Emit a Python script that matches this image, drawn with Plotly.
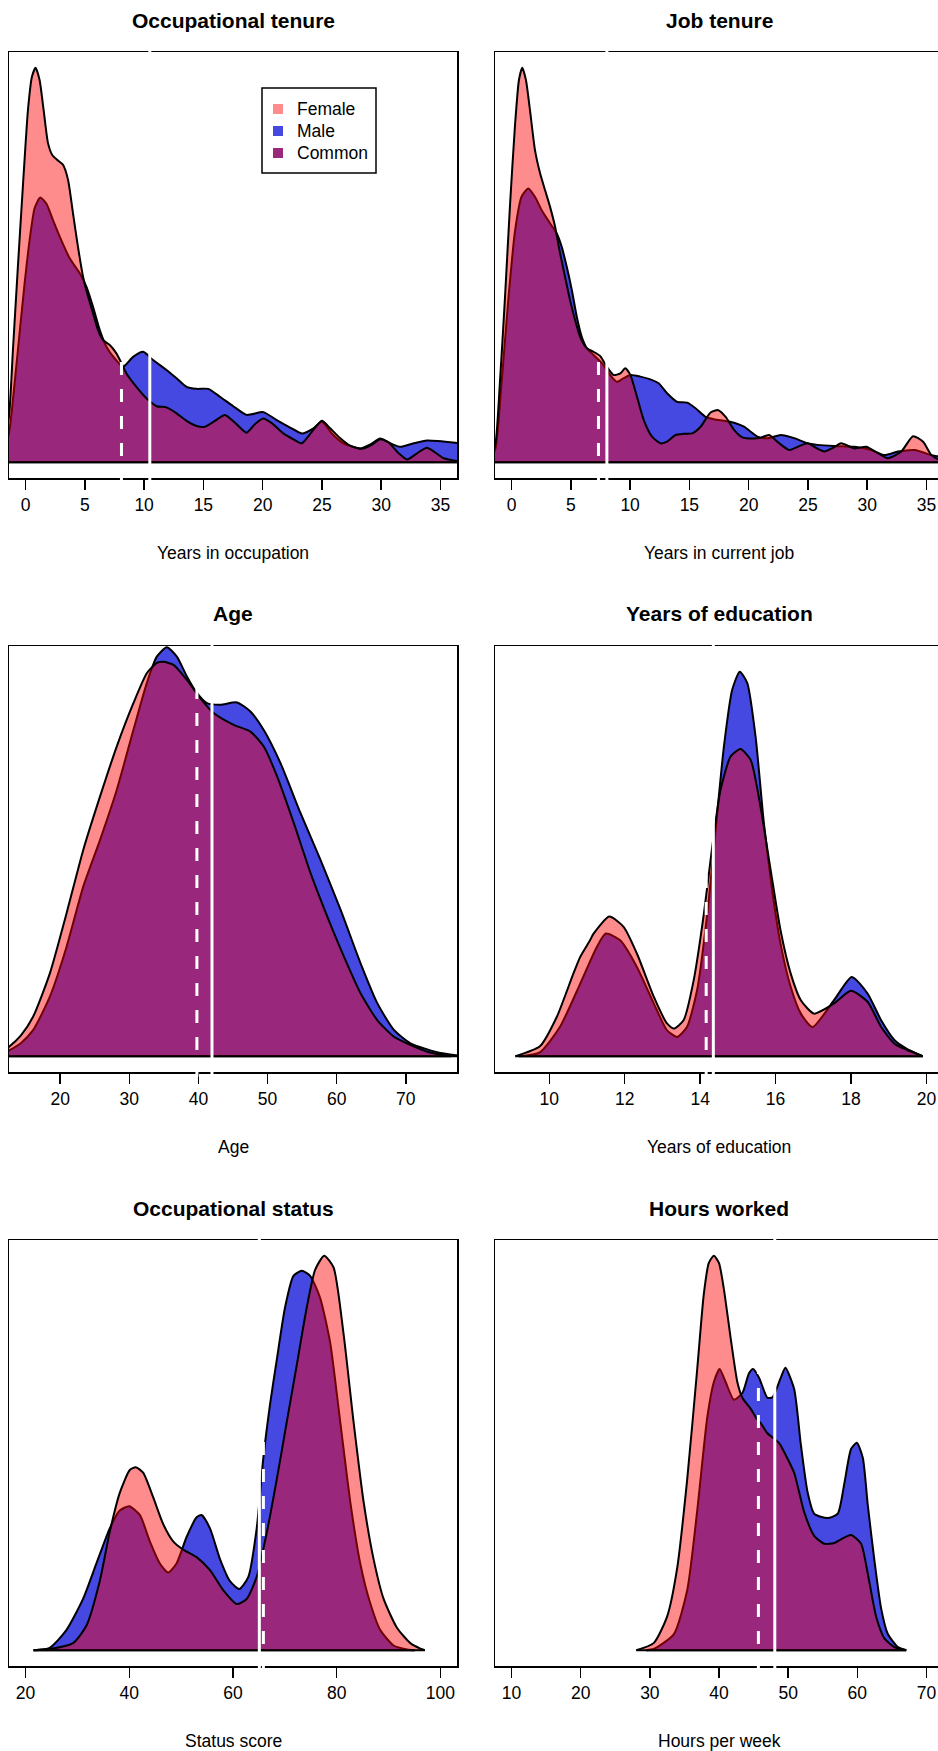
import plotly.graph_objects as go

FONT = "Liberation Sans, Arial, sans-serif"

# ---------------- data (density, scaled so 1 = panel y-limit) ----------------
# Occupational tenure (years in occupation)
occ_f_x = [-2.6, -2.0, -1.41, -1.07, -0.65, -0.23, 0.20, 0.535, 0.845, 1.18, 1.52, 1.89, 2.25, 2.73,
           3.16, 3.58, 4.00, 4.42, 4.85, 5.27, 5.69, 6.11, 6.53, 7.10, 7.66, 8.09, 8.51, 9.35, 10.20,
           11.05, 11.89, 12.74, 13.58, 14.43, 15.13, 15.98, 16.82, 17.67, 18.65, 19.36, 20.06, 20.77,
           21.75, 22.60, 23.30, 24.15, 25.00, 25.70, 26.55, 27.39, 28.36, 29.21, 29.92, 30.63, 31.47,
           32.18, 33.00, 33.87, 35.28, 36.40, 37.50]
occ_f_y = [0.0, 0.03, 0.115, 0.284, 0.496, 0.699, 0.893, 0.977, 1.0, 0.969, 0.893, 0.809, 0.779, 0.765,
           0.754, 0.716, 0.631, 0.546, 0.470, 0.420, 0.378, 0.335, 0.310, 0.297, 0.276, 0.251, 0.225,
           0.191, 0.162, 0.142, 0.139, 0.124, 0.105, 0.092, 0.090, 0.105, 0.120, 0.100, 0.075, 0.097,
           0.111, 0.099, 0.073, 0.058, 0.048, 0.077, 0.105, 0.086, 0.061, 0.042, 0.034, 0.044, 0.058,
           0.050, 0.023, 0.007, 0.022, 0.037, 0.010, 0.003, 0.0]
occ_m_x = [-2.6, -2.0, -1.41, -0.93, -0.51, -0.08, 0.34, 0.76, 1.24, 1.75, 2.31, 3.01, 3.72, 4.57, 5.13,
           5.69, 6.26, 6.82, 7.52, 8.23, 9.07, 9.92, 10.76, 11.89, 12.74, 13.58, 14.43, 15.41, 16.40,
           17.52, 18.65, 20.06, 21.19, 22.32, 23.30, 24.29, 25.00, 25.84, 26.82, 28.23, 29.08, 29.92,
           30.77, 31.61, 32.74, 33.87, 36.40, 37.50]
occ_m_y = [0.0, 0.02, 0.073, 0.200, 0.327, 0.454, 0.563, 0.644, 0.671, 0.656, 0.614, 0.563, 0.517, 0.479,
           0.445, 0.394, 0.335, 0.293, 0.263, 0.242, 0.267, 0.280, 0.259, 0.234, 0.213, 0.191, 0.186,
           0.186, 0.166, 0.142, 0.120, 0.127, 0.107, 0.088, 0.073, 0.086, 0.103, 0.073, 0.048, 0.035,
           0.045, 0.060, 0.048, 0.039, 0.048, 0.055, 0.049, 0.045]
occ_mean_f, occ_mean_m = 8.09, 10.48

# Job tenure (years in current job)
job_f_x = [-2.3, -1.8, -1.36, -0.99, -0.57, -0.14, 0.28, 0.62, 0.90, 1.21, 1.55, 1.97, 2.40, 2.82, 3.24,
           3.67, 4.09, 4.51, 4.94, 5.36, 5.78, 6.35, 6.91, 7.48, 8.04, 8.61, 9.17, 9.59, 10.02, 10.58,
           11.15, 11.85, 12.56, 13.12, 13.83, 14.53, 15.24, 15.95, 16.79, 17.44, 18.06, 18.77, 19.47,
           20.46, 21.00, 21.73, 22.50, 23.42, 24.20, 24.98, 25.70, 26.38, 27.10, 27.80, 28.93, 29.92,
           30.80, 31.75, 32.88, 33.87, 34.72, 35.42, 36.10, 37.00]
job_f_y = [0.0, 0.01, 0.048, 0.200, 0.411, 0.648, 0.851, 0.969, 1.0, 0.969, 0.893, 0.792, 0.733, 0.690,
           0.648, 0.597, 0.530, 0.470, 0.410, 0.360, 0.318, 0.289, 0.280, 0.269, 0.242, 0.221, 0.225,
           0.238, 0.221, 0.166, 0.107, 0.065, 0.048, 0.052, 0.069, 0.072, 0.073, 0.090, 0.126, 0.132,
           0.115, 0.082, 0.063, 0.060, 0.062, 0.069, 0.050, 0.031, 0.040, 0.048, 0.036, 0.027, 0.036,
           0.048, 0.035, 0.039, 0.025, 0.010, 0.027, 0.066, 0.052, 0.018, 0.006, 0.0]
job_m_x = [-2.3, -1.8, -1.36, -0.85, -0.28, 0.28, 0.84, 1.41, 1.97, 2.54, 3.24, 3.81, 4.23, 4.65, 5.08,
           5.50, 5.92, 6.35, 6.91, 7.62, 8.32, 8.89, 9.45, 10.02, 10.86, 11.71, 12.41, 13.12, 13.97,
           14.81, 15.52, 16.37, 17.07, 17.92, 18.77, 19.61, 20.74, 21.59, 22.72, 23.84, 24.98, 25.82,
           27.23, 28.93, 30.34, 31.47, 32.60, 34.01, 35.42, 36.10, 37.00]
job_m_y = [0.0, 0.008, 0.035, 0.200, 0.411, 0.584, 0.673, 0.694, 0.673, 0.639, 0.606, 0.580, 0.546,
           0.496, 0.437, 0.369, 0.318, 0.289, 0.272, 0.251, 0.221, 0.204, 0.213, 0.221, 0.217, 0.210,
           0.200, 0.175, 0.153, 0.151, 0.137, 0.115, 0.109, 0.105, 0.100, 0.090, 0.065, 0.061, 0.069,
           0.061, 0.048, 0.044, 0.041, 0.039, 0.031, 0.018, 0.027, 0.031, 0.018, 0.014, 0.005]
job_mean_f, job_mean_m = 7.33, 8.04

# Age
age_f_x = [11.0, 12.61, 14.3, 16.08, 18.51, 20.92, 23.34, 25.76, 28.18, 30.59, 32.53, 33.98, 34.95,
           36.40, 38.33, 40.26, 42.20, 45.10, 47.52, 49.45, 51.39, 53.80, 56.22, 58.64, 61.06, 63.47,
           65.89, 68.31, 70.73, 73.00, 75.00, 76.50]
age_f_y = [0.005, 0.024, 0.052, 0.100, 0.210, 0.362, 0.523, 0.658, 0.785, 0.895, 0.971, 0.997, 1.0,
           0.992, 0.954, 0.908, 0.870, 0.840, 0.823, 0.785, 0.709, 0.591, 0.464, 0.354, 0.252, 0.159,
           0.091, 0.049, 0.028, 0.012, 0.004, 0.0]
age_m_x = [11.0, 12.61, 14.3, 16.08, 18.51, 20.92, 23.34, 25.76, 28.18, 30.59, 32.53, 33.98, 35.43,
           36.88, 38.33, 39.78, 41.23, 43.17, 45.58, 47.52, 49.45, 51.87, 54.77, 57.67, 60.57, 63.47,
           65.89, 68.31, 70.73, 73.00, 75.00, 77.50, 78.50]
age_m_y = [0.003, 0.015, 0.033, 0.066, 0.151, 0.277, 0.430, 0.548, 0.675, 0.827, 0.946, 1.013, 1.037,
           1.013, 0.963, 0.921, 0.895, 0.891, 0.897, 0.874, 0.827, 0.743, 0.616, 0.497, 0.371, 0.235,
           0.134, 0.066, 0.032, 0.018, 0.008, 0.002, 0.0]
age_mean_f, age_mean_m = 39.78, 41.96

# Years of education
edu_f_x = [9.10, 9.75, 10.20, 10.64, 10.82, 11.08, 11.17, 11.59, 11.97, 12.32, 12.77, 13.12, 13.30, 13.56,
           13.83, 14.10, 14.32, 14.54, 14.81, 15.07, 15.34, 15.60, 15.87, 16.13, 16.40, 16.67, 17.02,
           17.55, 18.00, 18.44, 18.80, 19.15, 19.46, 19.90]
edu_f_y = [0.0, 0.025, 0.100, 0.210, 0.252, 0.294, 0.310, 0.354, 0.328, 0.261, 0.151, 0.083, 0.070, 0.091,
           0.193, 0.362, 0.531, 0.675, 0.760, 0.779, 0.751, 0.633, 0.472, 0.320, 0.210, 0.142, 0.108,
           0.134, 0.166, 0.138, 0.074, 0.032, 0.017, 0.0]
edu_m_x = [9.20, 9.75, 10.28, 10.82, 11.26, 11.50, 11.88, 12.32, 12.77, 13.12, 13.39, 13.65, 13.92, 14.19,
           14.41, 14.63, 14.85, 15.05, 15.25, 15.47, 15.69, 15.91, 16.13, 16.40, 16.67, 16.98, 17.55,
           18.02, 18.44, 18.80, 19.15, 19.46, 19.90]
edu_m_y = [0.0, 0.010, 0.074, 0.184, 0.277, 0.311, 0.294, 0.227, 0.134, 0.066, 0.049, 0.074, 0.168, 0.362,
           0.574, 0.785, 0.929, 0.975, 0.946, 0.810, 0.591, 0.421, 0.286, 0.176, 0.108, 0.074, 0.142,
           0.201, 0.159, 0.091, 0.041, 0.020, 0.0]
edu_mean_f, edu_mean_m = 14.16, 14.35

# Occupational status (status score)
stat_f_x = [21.55, 24.64, 29.14, 31.72, 34.30, 36.23, 38.16, 40.10, 41.26, 42.67, 44.60, 46.53, 48.46,
            50.40, 52.98, 55.56, 58.13, 60.71, 62.64, 64.57, 66.51, 68.44, 70.37, 72.31, 74.24, 75.85,
            77.58, 79.38, 81.31, 83.25, 85.18, 87.11, 89.05, 91.62, 94.20, 96.13, 97.00]
stat_f_y = [0.0, 0.003, 0.018, 0.062, 0.175, 0.300, 0.399, 0.457, 0.464, 0.450, 0.388, 0.320, 0.276,
            0.255, 0.236, 0.203, 0.152, 0.117, 0.130, 0.186, 0.298, 0.433, 0.579, 0.724, 0.870, 0.965,
            1.0, 0.971, 0.803, 0.579, 0.377, 0.231, 0.130, 0.057, 0.018, 0.004, 0.0]
stat_m_x = [21.55, 24.64, 27.86, 31.08, 33.66, 36.23, 38.16, 39.97, 42.03, 43.96, 45.89, 47.50, 49.11,
            51.05, 52.98, 53.94, 55.56, 57.49, 59.42, 61.22, 62.96, 64.57, 65.86, 67.15, 68.44, 70.05,
            71.66, 73.27, 74.88, 76.81, 78.74, 80.68, 82.61, 84.54, 86.47, 88.41, 90.98, 93.56, 95.00]
stat_m_y = [0.0, 0.006, 0.051, 0.130, 0.220, 0.309, 0.354, 0.365, 0.343, 0.276, 0.220, 0.197, 0.220,
            0.287, 0.337, 0.343, 0.309, 0.231, 0.175, 0.155, 0.186, 0.309, 0.489, 0.624, 0.736, 0.870,
            0.949, 0.962, 0.949, 0.893, 0.780, 0.579, 0.377, 0.220, 0.119, 0.051, 0.012, 0.002, 0.0]
stat_mean_f, stat_mean_m = 65.86, 65.08

# Hours worked (hours per week)
hrs_f_x = [28.04, 30.55, 32.49, 33.95, 35.40, 36.85, 37.81, 38.53, 39.26, 39.99, 40.71, 41.68, 42.65,
           43.38, 44.59, 45.56, 46.06, 47.01, 48.70, 49.67, 50.87, 52.32, 53.77, 55.22, 56.68, 57.65,
           59.10, 60.55, 61.52, 62.73, 63.93, 65.38, 67.08]
hrs_f_y = [0.0, 0.018, 0.085, 0.208, 0.433, 0.713, 0.904, 0.982, 1.0, 0.982, 0.915, 0.792, 0.680, 0.640,
           0.612, 0.584, 0.575, 0.550, 0.525, 0.494, 0.450, 0.350, 0.290, 0.270, 0.272, 0.281, 0.292,
           0.270, 0.194, 0.085, 0.030, 0.008, 0.0]
hrs_m_x = [29.50, 30.55, 33.45, 35.40, 36.85, 38.30, 39.26, 40.09, 40.96, 42.16, 43.38, 44.34, 44.92,
           45.79, 47.01, 47.74, 48.94, 49.60, 50.87, 51.84, 52.81, 53.77, 55.71, 57.17, 58.13, 59.10,
           59.93, 60.80, 61.52, 62.49, 63.45, 64.42, 65.88, 67.08]
hrs_m_y = [0.0, 0.003, 0.040, 0.152, 0.354, 0.590, 0.680, 0.713, 0.680, 0.635, 0.652, 0.702, 0.713,
           0.691, 0.640, 0.641, 0.691, 0.716, 0.662, 0.521, 0.401, 0.346, 0.335, 0.346, 0.423, 0.510,
           0.526, 0.488, 0.368, 0.226, 0.106, 0.041, 0.008, 0.0]
hrs_mean_f, hrs_mean_m = 45.70, 48.07

titles = ["Occupational tenure", "Job tenure", "Age", "Years of education",
          "Occupational status", "Hours worked"]
xlabels = ["Years in occupation", "Years in current job", "Age", "Years of education",
           "Status score", "Hours per week"]
xlims = [(0, 35), (0, 35), (15, 75), (9, 20), (20, 100), (10, 70)]
tick_sets = [[0, 5, 10, 15, 20, 25, 30, 35], [0, 5, 10, 15, 20, 25, 30, 35],
             [20, 30, 40, 50, 60, 70], [10, 12, 14, 16, 18, 20],
             [20, 40, 60, 80, 100], [10, 20, 30, 40, 50, 60, 70]]
legend_labels = ["Female", "Male", "Common"]

female_series = [(occ_f_x, occ_f_y), (job_f_x, job_f_y), (age_f_x, age_f_y),
                 (edu_f_x, edu_f_y), (stat_f_x, stat_f_y), (hrs_f_x, hrs_f_y)]
male_series = [(occ_m_x, occ_m_y), (job_m_x, job_m_y), (age_m_x, age_m_y),
               (edu_m_x, edu_m_y), (stat_m_x, stat_m_y), (hrs_m_x, hrs_m_y)]
means = [(occ_mean_f, occ_mean_m), (job_mean_f, job_mean_m), (age_mean_f, age_mean_m),
         (edu_mean_f, edu_mean_m), (stat_mean_f, stat_mean_m), (hrs_mean_f, hrs_mean_m)]

# ---------------- styling ----------------
MALE_FILL = "rgb(70,72,226)"
FEMALE_FILL = "rgba(255,0,0,0.45)"
COMMON_FILL = "rgb(155,41,123)"
FS = 17.5

W, H = 938, 1751
COL_LEFT = [9, 495]
BOX_W = 448
ROW_TOP = [52, 646, 1240]
BOX_H = 426
TITLE_OFF = -32
XLAB_OFF = BOX_H + 75

fig = go.Figure()
layout = dict(width=W, height=H, margin=dict(l=0, r=0, t=0, b=0),
              paper_bgcolor="white", plot_bgcolor="white",
              font=dict(family=FONT, size=FS, color="black"),
              showlegend=False)
annotations = []
shapes = []

for i in range(6):
    r, c = divmod(i, 2)
    n = i + 1
    sfx = "" if n == 1 else str(n)
    xa, ya = "x" + sfx, "y" + sfx
    left = COL_LEFT[c]
    right = min(left + BOX_W, W)
    frac = (right - left) / BOX_W
    lo, hi = xlims[i]
    span = hi - lo
    r0 = lo - 0.04 * span
    r1 = r0 + (span * 1.08) * frac
    top = ROW_TOP[r]
    bot = top + BOX_H

    layout["xaxis" + sfx] = dict(
        domain=[left / W, right / W], range=[r0, r1], anchor=ya,
        tickmode="array", tickvals=tick_sets[i], ticks="outside", ticklen=10,
        tickwidth=1.5, tickcolor="black", showline=True, linecolor="black",
        linewidth=1.5, mirror=True, showgrid=False, zeroline=False,
        tickfont=dict(size=FS, family=FONT, color="black"), fixedrange=True)
    layout["yaxis" + sfx] = dict(
        domain=[1 - bot / H, 1 - top / H], range=[-0.04, 1.04], anchor=xa,
        showticklabels=False, ticks="", showline=True, linecolor="black",
        linewidth=1.5, mirror=(c == 0), showgrid=False, zeroline=False, fixedrange=True)

    mx, my = male_series[i]
    fx, fy = female_series[i]
    for (sx, sy), fill, name in [((mx, my), MALE_FILL, "Male"), ((fx, fy), FEMALE_FILL, "Female")]:
        fig.add_trace(go.Scatter(x=sx, y=sy, mode="lines", fill="tozeroy", fillcolor=fill,
                                 line=dict(color="black", width=2, shape="spline", smoothing=0.6),
                                 xaxis=xa, yaxis=ya, showlegend=False, hoverinfo="skip", name=name))
        # closing edge of the density polygon along the zero line
        fig.add_trace(go.Scatter(x=[sx[0], sx[-1]], y=[0, 0], mode="lines",
                                 line=dict(color="black", width=2),
                                 xaxis=xa, yaxis=ya, showlegend=False, hoverinfo="skip"))

    fmean, mmean = means[i]
    for val, dash in [(fmean, "13px,14px"), (mmean, "solid")]:
        shapes.append(dict(type="line", xref=xa, yref=ya + " domain", x0=val, x1=val,
                           y0=-0.012, y1=1.012, layer="above",
                           line=dict(color="white", width=3, dash=dash)))

    cx = (left + left + BOX_W) / 2 / W
    annotations.append(dict(text="<b>" + titles[i] + "</b>", x=cx, xref="paper",
                            y=1 - (top + TITLE_OFF) / H, yref="paper", showarrow=False,
                            xanchor="center", yanchor="middle",
                            font=dict(size=21, family=FONT, color="black")))
    annotations.append(dict(text=xlabels[i], x=cx, xref="paper",
                            y=1 - (top + XLAB_OFF) / H, yref="paper", showarrow=False,
                            xanchor="center", yanchor="middle",
                            font=dict(size=FS, family=FONT, color="black")))

# legend (top panel, drawn like R's legend box)
LEG_L, LEG_R, LEG_T, LEG_B = 262, 376, 88, 173
LEG_ROWS = [109, 131, 153]
SW = 5
shapes.append(dict(type="rect", xref="paper", yref="paper", x0=LEG_L / W, x1=LEG_R / W,
                   y0=1 - LEG_B / H, y1=1 - LEG_T / H, fillcolor="white",
                   line=dict(color="black", width=1.5), layer="above"))
for lab, col, yy in zip(legend_labels, [FEMALE_FILL, MALE_FILL, COMMON_FILL], LEG_ROWS):
    shapes.append(dict(type="rect", xref="paper", yref="paper",
                       x0=(278 - SW) / W, x1=(278 + SW) / W,
                       y0=1 - (yy + SW) / H, y1=1 - (yy - SW) / H,
                       fillcolor=col, line=dict(width=0), layer="above"))
    annotations.append(dict(text=lab, x=295 / W, xref="paper", y=1 - yy / H, yref="paper",
                            showarrow=False, xanchor="left", yanchor="middle",
                            font=dict(size=FS, family=FONT, color="black")))

layout["annotations"] = annotations
layout["shapes"] = shapes
fig.update_layout(**layout)
fig.write_html("out.html", config={"displayModeBar": False, "staticPlot": True},
               post_script="document.body.style.margin='0';"
                           "document.body.style.overflow='hidden';"
                           "document.documentElement.style.overflow='hidden';")
